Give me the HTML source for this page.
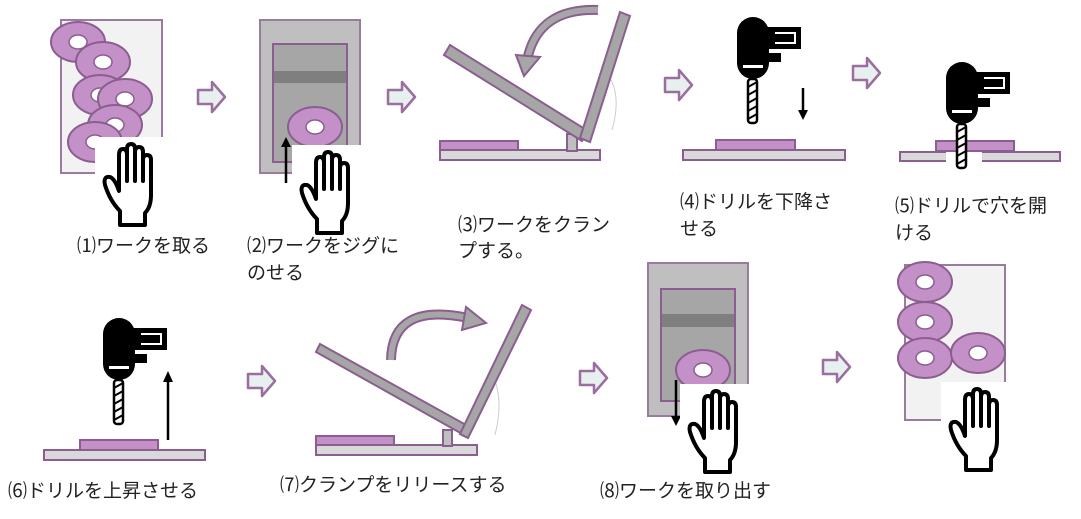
<!DOCTYPE html>
<html><head><meta charset="utf-8"><style>
html,body{margin:0;padding:0;background:#fff;width:1081px;height:519px;overflow:hidden}
svg{display:block}
text{font-family:"Liberation Sans","Noto Sans CJK JP",sans-serif;font-size:19px;fill:#222}
</style></head><body>
<svg width="1081" height="519" viewBox="0 0 1081 519" xmlns="http://www.w3.org/2000/svg">
<defs>
<g id="disk"><ellipse cx="0" cy="0" rx="27" ry="20" fill="#c391c7" stroke="#8b5d90" stroke-width="2"/><ellipse cx="0" cy="0" rx="9" ry="7" fill="#fff" stroke="#8b5d90" stroke-width="1.5"/></g>
<g id="hand"><rect x="-10" y="-8" width="72" height="92" fill="#fff"/>
<path d="M15,80 L15,66 Q5,56 0,40 Q-2,31 5,32 Q10,34 14,46 L14,10 Q14,4 18,4 Q22,4 22,10 L22,36 L22,4 Q22,-1 26,-1 Q30,-1 30,4 L30,36 L30,7 Q30,2 34,2 Q38,2 38,7 L38,36 L38,15 Q38,10 42,10 Q46,10 46,15 L46,50 Q46,62 40,68 L40,80 Z" fill="#fff" stroke="#000" stroke-width="4" stroke-linejoin="round"/></g>
<g id="arr"><path d="M0,8 L14,8 L14,0 L27,15 L14,30 L14,22 L0,22 Z" fill="#e7efef" stroke="#9b6ea0" stroke-width="2.5" stroke-linejoin="round"/></g>
<g id="drill">
<rect x="0" y="0" width="32" height="62" rx="16" fill="#000"/>
<path d="M26,10 L64,10 L64,32 L26,32 Z" fill="#000"/>
<path d="M38,16 L58,16 L58,26 L38,26" fill="none" stroke="#fff" stroke-width="2"/>
<rect x="26" y="36" width="18" height="9" fill="#000"/>
<rect x="6" y="48" width="20" height="3" fill="#fff"/>
<rect x="11" y="62" width="9" height="44" rx="3" fill="#fff" stroke="#000" stroke-width="2.5"/>
<path d="M11,70 L20,65 M11,78 L20,73 M11,86 L20,81 M11,94 L20,89 M11,102 L20,97" stroke="#000" stroke-width="2"/>
</g>
</defs>

<!-- Panel 1 -->
<rect x="61" y="20" width="101" height="153" fill="#f2f2f2" stroke="#9b7aa0" stroke-width="2"/>
<use href="#disk" x="78" y="42"/><use href="#disk" x="103" y="62"/><use href="#disk" x="100" y="95"/><use href="#disk" x="125" y="99"/><use href="#disk" x="115" y="125"/><use href="#disk" x="95" y="142"/>
<use href="#hand" x="105" y="145"/>
<use href="#arr" x="198" y="82"/>

<!-- Panel 2 -->
<rect x="260" y="20" width="100" height="153" fill="#bfbfbf" stroke="#9b7aa0" stroke-width="2"/>
<rect x="273" y="44" width="74" height="118" fill="#a6a6a6" stroke="#8b5d90" stroke-width="2"/>
<rect x="274" y="71" width="72" height="12" fill="#7f7f7f"/>
<use href="#disk" x="315" y="127"/>
<line x1="286" y1="183" x2="286" y2="145" stroke="#000" stroke-width="2.5"/><path d="M281,147 L286,137 L291,147 Z"/>
<use href="#hand" x="302" y="153"/>
<use href="#arr" x="388" y="82"/>

<!-- Panel 3 -->
<rect x="440" y="150" width="160" height="10" fill="#d9d9d9" stroke="#8b5d90" stroke-width="2"/>
<rect x="440" y="141" width="78" height="9" fill="#c391c7" stroke="#8b5d90" stroke-width="2"/>
<rect x="567" y="134" width="10" height="17" fill="#bfbfbf" stroke="#8b5d90" stroke-width="2"/>
<path d="M608,75 Q622,95 612,130" fill="none" stroke="#ccc" stroke-width="1"/>
<polygon points="444,55 450,45 588,131 582,141" fill="#a6a6a6" stroke="#8b5d90" stroke-width="2"/>
<polygon points="620,12 630,16 590,142 580,138" fill="#a6a6a6" stroke="#8b5d90" stroke-width="2"/>
<path d="M598,10 Q540,8 528,56" fill="none" stroke="#8b5d90" stroke-width="10"/>
<path d="M598,10 Q540,8 528,56" fill="none" stroke="#a6a6a6" stroke-width="6"/>
<polygon points="516,55 540,57 524,76" fill="#a6a6a6" stroke="#8b5d90" stroke-width="2"/>
<use href="#arr" x="665" y="70"/>

<!-- Panel 4 -->
<use href="#drill" x="737" y="17"/>
<line x1="803" y1="88" x2="803" y2="112" stroke="#000" stroke-width="2.5"/><path d="M798,110 L803,120 L808,110 Z"/>
<rect x="683" y="150" width="162" height="10" fill="#d9d9d9" stroke="#8b5d90" stroke-width="2"/>
<rect x="716" y="140" width="79" height="10" fill="#c391c7" stroke="#8b5d90" stroke-width="2"/>
<use href="#arr" x="853" y="58"/>

<!-- Panel 5 -->
<rect x="900" y="152" width="160" height="9" fill="#d9d9d9" stroke="#8b5d90" stroke-width="2"/>
<rect x="936" y="141" width="78" height="10" fill="#c391c7" stroke="#8b5d90" stroke-width="2"/>
<rect x="946" y="152" width="36" height="14" fill="#fff"/>
<use href="#drill" x="946" y="62"/>

<!-- Row 1 labels -->
<text x="77" y="252">⑴ワークを取る</text>
<text x="247" y="252">⑵ワークをジグに</text>
<text x="247" y="279">のせる</text>
<text x="458" y="231">⑶ワークをクラン</text>
<text x="458" y="257">プする。</text>
<text x="680" y="208">⑷ドリルを下降さ</text>
<text x="680" y="235">せる</text>
<text x="895" y="212">⑸ドリルで穴を開</text>
<text x="895" y="239">ける</text>

<!-- Panel 6 -->
<use href="#drill" x="103" y="318"/>
<line x1="168" y1="440" x2="168" y2="380" stroke="#000" stroke-width="2.5"/><path d="M163,382 L168,371 L173,382 Z"/>
<rect x="44" y="450" width="161" height="10" fill="#d9d9d9" stroke="#8b5d90" stroke-width="2"/>
<rect x="80" y="440" width="78" height="10" fill="#c391c7" stroke="#8b5d90" stroke-width="2"/>
<use href="#arr" x="248" y="366"/>

<!-- Panel 7 -->
<rect x="316" y="445" width="161" height="10" fill="#d9d9d9" stroke="#8b5d90" stroke-width="2"/>
<rect x="316" y="436" width="78" height="9" fill="#c391c7" stroke="#8b5d90" stroke-width="2"/>
<rect x="443" y="430" width="9" height="16" fill="#bfbfbf" stroke="#8b5d90" stroke-width="2"/>
<path d="M490,370 Q505,395 495,435" fill="none" stroke="#ccc" stroke-width="1"/>
<polygon points="316,352 320,344 468,426 464,435" fill="#a6a6a6" stroke="#8b5d90" stroke-width="2"/>
<polygon points="522,305 531,310 468,438 460,434" fill="#a6a6a6" stroke="#8b5d90" stroke-width="2"/>
<path d="M391,360 Q392,302 468,318" fill="none" stroke="#8b5d90" stroke-width="10"/>
<path d="M391,360 Q392,302 468,318" fill="none" stroke="#a6a6a6" stroke-width="6"/>
<polygon points="466,307 462,330 486,323" fill="#a6a6a6" stroke="#8b5d90" stroke-width="2"/>
<use href="#arr" x="580" y="363"/>

<!-- Panel 8 -->
<rect x="648" y="263" width="100" height="153" fill="#bfbfbf" stroke="#9b7aa0" stroke-width="2"/>
<rect x="661" y="289" width="74" height="112" fill="#a6a6a6" stroke="#8b5d90" stroke-width="2"/>
<rect x="662" y="314" width="72" height="13" fill="#7f7f7f"/>
<use href="#disk" x="703" y="370"/>
<line x1="676" y1="380" x2="676" y2="418" stroke="#000" stroke-width="2.5"/><path d="M671,416 L676,426 L681,416 Z"/>
<use href="#hand" x="690" y="392"/>
<use href="#arr" x="823" y="352"/>

<!-- Panel 9 -->
<rect x="905" y="265" width="100" height="155" fill="#f2f2f2" stroke="#9b7aa0" stroke-width="2"/>
<use href="#disk" x="925" y="282"/><use href="#disk" x="925" y="322"/><use href="#disk" x="925" y="358"/><use href="#disk" x="978" y="353"/>
<use href="#hand" x="951" y="390"/>

<!-- Row 2 labels -->
<text x="8" y="497">⑹ドリルを上昇させる</text>
<text x="280" y="491">⑺クランプをリリースする</text>
<text x="600" y="497">⑻ワークを取り出す</text>
</svg>
</body></html>
